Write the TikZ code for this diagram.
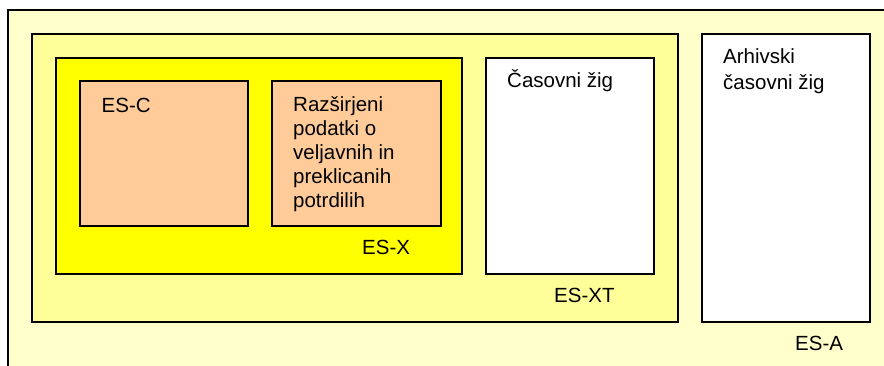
\documentclass[tikz,border=0pt]{standalone}
\usepackage{fontspec}
\setmainfont{Liberation Sans}
\usepackage{tikz}
\usetikzlibrary{positioning}
\definecolor{paleyellow}{HTML}{FFFFCC}
\definecolor{lightyellow}{HTML}{FFFF99}
\definecolor{fullyellow}{HTML}{FFFF00}
\definecolor{peach}{HTML}{FFCC99}

\begin{document}
\begin{tikzpicture}[x=1pt, y=-1pt,
  box/.style={draw=black, line width=1.7pt, anchor=north west, inner sep=0pt, outer sep=0pt},
  lbl/.style={anchor=base west, inner sep=0pt, align=left, font=\fontsize{20.5}{24}\selectfont}]
  \useasboundingbox (0,0) rectangle (884,365);
  \clip (0,0) rectangle (884,365);
  % nested boxes
  \node[box, fill=paleyellow, minimum width=900pt, minimum height=380pt] (esa) at (8,10) {};
  \node[box, fill=lightyellow, minimum width=646pt, minimum height=288pt] (esxt) at (32,34) {};
  \node[box, fill=fullyellow, minimum width=406pt, minimum height=216pt] (esx) at (56,58) {};
  \node[box, fill=peach, minimum width=168pt, minimum height=145pt] (esc) at (80,81) {};
  \node[box, fill=peach, minimum width=169pt, minimum height=145pt] (ext) at (272,81) {};
  \node[box, fill=white, minimum width=168pt, minimum height=216pt] (ts) at (486,58) {};
  \node[box, fill=white, minimum width=168pt, minimum height=288pt] (ats) at (702,34) {};
  % labels (base of a multi-line node is its last line)
  \node[lbl] (esc-l) at ([xshift=21.5pt, yshift=-31pt]esc.north west) {ES-C};
  \node[lbl] (ext-l) at ([xshift=21pt, yshift=-126.7pt]ext.north west)
    {Razširjeni\\podatki o\\veljavnih in\\preklicanih\\potrdilih};
  \node[lbl] (esx-l) at ([xshift=-100pt, yshift=20pt]esx.south east) {ES-X};
  \node[lbl] (ts-l) at ([xshift=21pt, yshift=-29.7pt]ts.north west) {Časovni žig};
  \node[lbl, font=\fontsize{20.5}{26}\selectfont] (ats-l) at ([xshift=21pt, yshift=-55.3pt]ats.north west)
    {Arhivski\\časovni žig};
  \node[lbl] (esxt-l) at (554,302.7) {ES-XT};
  \node[lbl] (esa-l) at (795,350) {ES-A};
\end{tikzpicture}
\end{document}
